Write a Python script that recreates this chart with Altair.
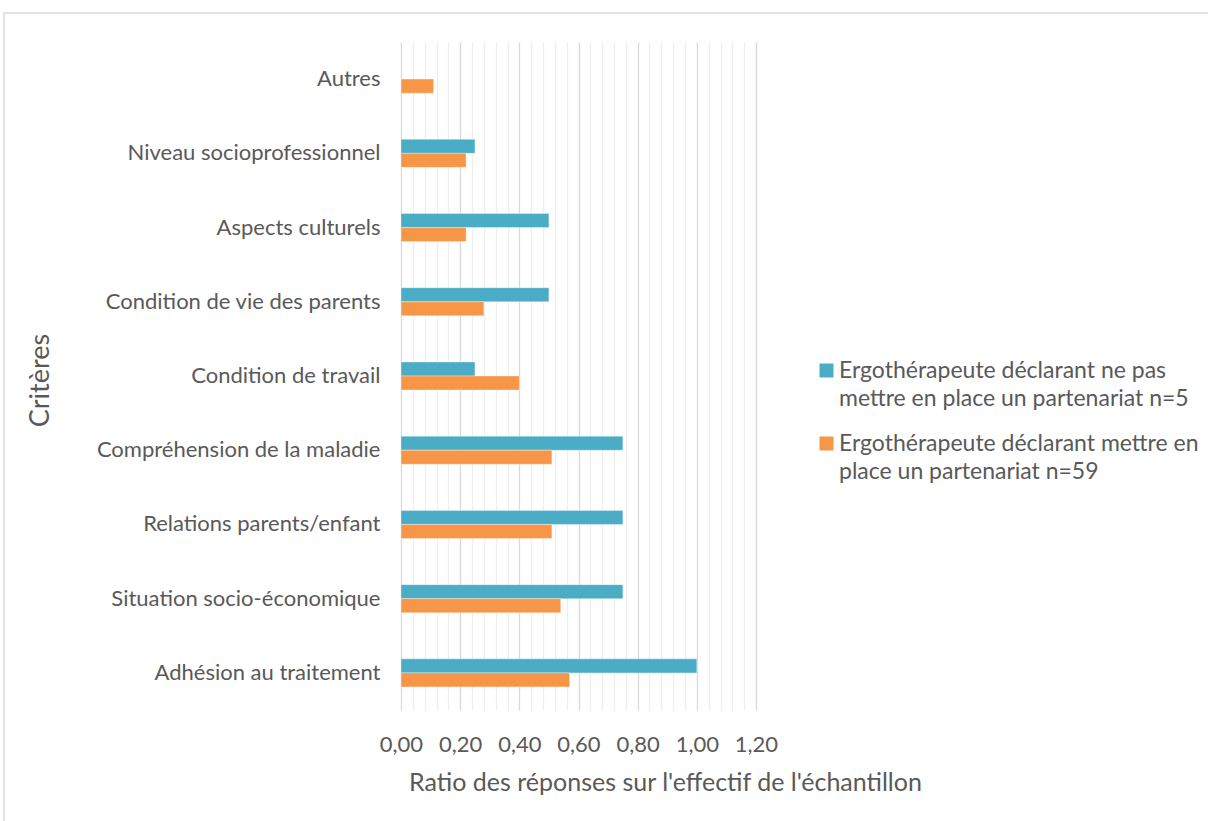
import altair as alt
import pandas as pd

categories = ["Autres\u00a0", "Niveau socioprofessionnel", "Aspects culturels",
              "Condition de vie des parents", "Condition de travail\u00a0",
              "Compréhension de la maladie\u00a0", "Relations parents/enfant",
              "Situation socio-économique", "Adhésion au traitement"]
series_names = ["Ergothérapeute déclarant ne pas\nmettre en place un partenariat n=5",
                "Ergothérapeute déclarant mettre en\nplace un partenariat n=59"]
values_non = [None, 0.25, 0.50, 0.50, 0.25, 0.75, 0.75, 0.75, 1.00]
values_oui = [0.11, 0.22, 0.22, 0.28, 0.40, 0.51, 0.51, 0.54, 0.57]
series_colors = ["#4BACC6", "#F79646"]
tick_values = [round(i * 0.04, 2) for i in range(31)]

rows = []
for c, a, b in zip(categories, values_non, values_oui):
    if a is not None:
        rows.append({"Critère": c, "Série": series_names[0], "Ratio": a})
    if b is not None:
        rows.append({"Critère": c, "Série": series_names[1], "Ratio": b})
df = pd.DataFrame(rows)

FONT = "Lato"
TXT = "#595959"
FS = 22

bars = alt.Chart(df).mark_bar(stroke="white", strokeWidth=0.6, strokeOpacity=0.6).encode(
    y=alt.Y("Critère:N", sort=categories,
            scale=alt.Scale(paddingInner=0.622, paddingOuter=0.311),
            axis=alt.Axis(title="Critères", titleFontSize=27, titleFontWeight="normal",
                          titleColor=TXT, titleFont=FONT, titleX=-361, titleY=338,
                          titleAngle=-90, titleAlign="center", titleBaseline="middle",
                          labelFont=FONT, labelFontSize=FS, labelColor=TXT,
                          labelPadding=21, ticks=False, domain=False, grid=False,
                          labelLimit=400)),
    yOffset=alt.YOffset("Série:N", sort=series_names),
    x=alt.X("Ratio:Q", scale=alt.Scale(domain=[0, 1.2], nice=False, zero=True),
            axis=alt.Axis(title="Ratio des réponses sur l'effectif de l'échantillon",
                          values=tick_values,
                          labelExpr="abs(datum.value*5 - round(datum.value*5)) < 0.001 ? replace(format(datum.value, '.2f'), '.', ',') : ''",
                          labelFont=FONT, labelFontSize=FS, labelColor=TXT,
                          labelPadding=24, ticks=False, domain=False,
                          labelFlush=False,
                          grid=True,
                          gridColor={"condition": {"test": "abs(datum.value*5 - round(datum.value*5)) < 0.001",
                                                   "value": "#d9d9d9"},
                                     "value": "#eeeeee"},
                          gridWidth=1.3,
                          titleFont=FONT, titleFontSize=25, titleFontWeight="normal",
                          titleColor=TXT, titleX=264, titleY=72,
                          titleAlign="center", titleBaseline="middle",
                          labelOverlap=False)),
    color=alt.Color("Série:N", sort=series_names,
                    scale=alt.Scale(domain=series_names, range=series_colors),
                    legend=alt.Legend(title=None, orient="none", legendX=414, legendY=317,
                                      labelExpr="split(datum.label, '\\n')",
                                      labelFont=FONT, labelFontSize=23, labelColor=TXT,
                                      symbolType="square", symbolSize=196,
                                      symbolStrokeWidth=0, rowPadding=21,
                                      labelLimit=500, labelOffset=1)),
)

border = alt.Chart(pd.DataFrame({"a": [0]})).mark_rect(
    fill=None, stroke="#d9d9d9", strokeWidth=1.5
).encode(x=alt.value(-397), x2=alt.value(815), y=alt.value(-29), y2=alt.value(790))

chart = alt.layer(border, bars).properties(
    width=355, height=668,
    autosize=alt.AutoSizeParams(type="none"),
    padding={"left": 401, "top": 42, "right": 452, "bottom": 111},
).configure(background="white", style={"guide-label": {"lineHeight": 28}}).configure_view(stroke=None)

chart.save("out.html", embed_options={"renderer": "svg", "actions": False})
